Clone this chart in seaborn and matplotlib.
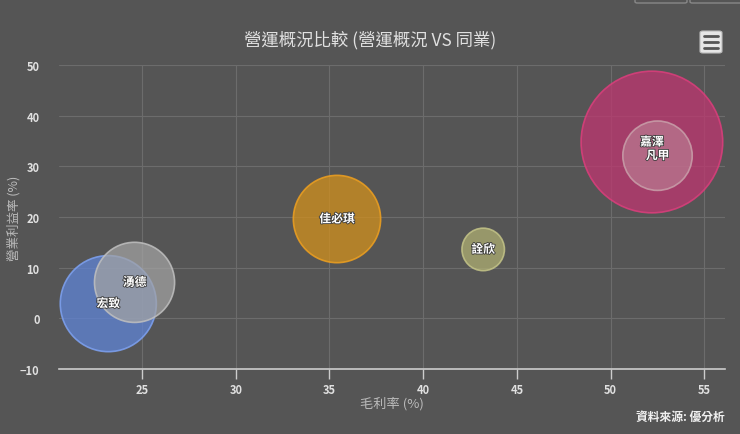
import pandas as pd
import numpy as np
import seaborn as sns
import matplotlib.pyplot as plt
import matplotlib.patheffects as pe
from matplotlib.patches import FancyBboxPatch
from matplotlib.colors import to_rgba

# 營運概況 vs 同業
companies = ['宏致', '湧德', '佳必琪', '詮欣', '嘉澤', '凡甲']
gross_margin = [23.2, 24.6, 35.4, 43.2, 52.2, 52.5]   # 毛利率 (%)
op_margin = [2.9, 7.1, 19.6, 13.6, 34.8, 32.1]        # 營業利益率 (%)
bubble_size = [46, 32, 38, 9, 100, 24]                # relative bubble size
colors = ['#5f84d6', '#a4a4a4', '#d2901c', '#aeae72', '#bf3670', '#c8a4ac']
edge_colors = ['#7ea2f2', '#c0c0c0', '#eea020', '#c4c488', '#dc3e7c', '#c9a0aa']
fill_alpha = [0.75, 0.72, 0.75, 0.75, 0.75, 0.42]

df = pd.DataFrame({'公司': companies, '毛利率': gross_margin,
                   '營業利益率': op_margin, 'size': bubble_size})

bg = '#555555'
sns.set_theme(style='dark', rc={'axes.facecolor': bg, 'figure.facecolor': bg})
plt.rcParams['font.family'] = ['Noto Sans CJK TC', 'DejaVu Sans']

fig = plt.figure(figsize=(7.4, 4.35), dpi=100)
ax = fig.add_axes([59 / 740, 65 / 435, 666 / 740, 304 / 435])
ax.set_facecolor(bg)

sns.scatterplot(data=df, x='毛利率', y='營業利益率', size='size',
                sizes=(0, 10400), size_norm=(0, 100), legend=False,
                linewidth=1.2, ax=ax, zorder=3)
pts = ax.collections[0]
pts.set_facecolors([to_rgba(c, a) for c, a in zip(colors, fill_alpha)])
pts.set_edgecolors([to_rgba(c, 0.85) for c in edge_colors])

for name, x, y in zip(companies, gross_margin, op_margin):
    ax.text(x, y, name, ha='center', va='center', color='white', fontsize=8.5,
            fontweight='bold', zorder=5,
            path_effects=[pe.withStroke(linewidth=1.2, foreground='#3a3a3a')])

ax.set_xlim(20.57, 56.1)
ax.set_ylim(-10, 50)
ax.set_xticks([25, 30, 35, 40, 45, 50, 55])
ax.set_yticks([-10, 0, 10, 20, 30, 40, 50])
ax.grid(True, color='#6c6c6c', linewidth=0.8)
ax.set_axisbelow(True)
for s in ['top', 'right', 'left']:
    ax.spines[s].set_visible(False)
ax.spines['bottom'].set_color('#cccccc')
ax.spines['bottom'].set_linewidth(1.2)
ax.tick_params(axis='x', colors='#cccccc', length=7, width=1, direction='out',
               labelsize=8, pad=3, bottom=True)
ax.tick_params(axis='y', colors='#dddddd', length=0, labelsize=8, pad=14)
for lab in ax.get_xticklabels() + ax.get_yticklabels():
    lab.set_fontweight('bold')
    lab.set_color('#e0e0e0')

ax.set_xlabel('毛利率 (%)', color='#bbbbbb', fontsize=9.5, labelpad=0)
ax.set_ylabel('營業利益率 (%)', color='#bbbbbb', fontsize=9, labelpad=2)
ax.yaxis.set_label_coords(-0.058, 0.5)

fig.text(0.5, 1 - 40 / 435, '營運概況比較 (營運概況 VS 同業)', ha='center', va='center',
         color='#e0e0e0', fontsize=12.5)
fig.text(725 / 740, 1 - 417 / 435, '資料來源: 優分析', ha='right', va='center',
         color='#f0f0f0', fontsize=8.5, fontweight='bold')

# export menu button
btn = FancyBboxPatch((700 / 740, 1 - 54 / 435), 22 / 740, 22 / 435,
                     boxstyle='round,pad=0,rounding_size=0.004',
                     transform=fig.transFigure, facecolor='#e6e6e6',
                     edgecolor='#bbbbbb', linewidth=0.8)
fig.patches.append(btn)
for yy in [37, 43, 49]:
    fig.add_artist(plt.Line2D([704 / 740, 718 / 740], [1 - yy / 435, 1 - yy / 435],
                              transform=fig.transFigure, color='#555555', linewidth=2))
# top-right range buttons (partially visible)
for x0 in [635, 690]:
    fig.patches.append(FancyBboxPatch((x0 / 740, 1 - 4 / 435), 52 / 740, 8 / 435,
                                      boxstyle='round,pad=0,rounding_size=0.003',
                                      transform=fig.transFigure, facecolor='none',
                                      edgecolor='#888888', linewidth=1))

fig.savefig('out.png', dpi=100, facecolor=bg)
